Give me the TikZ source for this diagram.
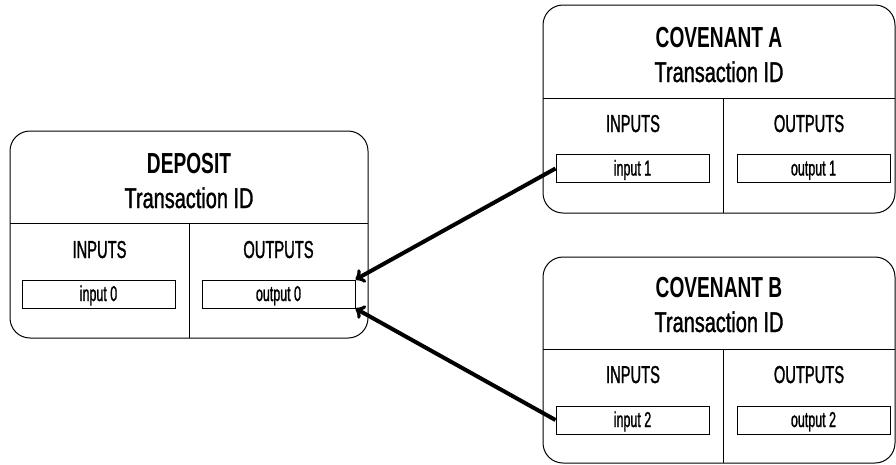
\documentclass[tikz,border=0pt]{standalone}
\usepackage{fontspec}
\setmainfont{Liberation Sans}
\usepackage{tikz}
\tikzstyle{txbox}=[draw,rounded corners=20pt,line width=1pt,minimum width=352pt,minimum height=207pt,inner sep=0pt]
\tikzstyle{port}=[draw,line width=1pt,minimum width=153pt,minimum height=28pt,inner sep=0pt,text height=15pt,text depth=1pt,font=\addfontfeature{FakeStretch=0.58,FakeBold=1.2}\fontsize{21.5}{21.5}\selectfont]
\tikzstyle{txtitle}=[anchor=base,font=\addfontfeature{FakeStretch=0.66}\fontsize{29}{29}\selectfont\bfseries]
\tikzstyle{txid}=[anchor=base,font=\addfontfeature{FakeStretch=0.7,FakeBold=1.2}\fontsize{28.5}{28.5}\selectfont]
\tikzstyle{colhead}=[anchor=base,font=\addfontfeature{FakeStretch=0.6,FakeBold=1.2}\fontsize{24.5}{24.5}\selectfont]

\begin{document}
\begin{tikzpicture}[x=1pt,y=-1pt]
          \useasboundingbox (0,0) rectangle (896,464);
          % deposit
          \node[txbox,minimum width=358pt] (dep) at (189,234.5) {};
          \node[txtitle] (depname) at (189,173) {DEPOSIT};
          \node[txid] (depid) at (189,208) {Transaction ID};
          \draw[line width=1pt] (10,223) -- (368,223);
          \draw[line width=1pt] (189,223) -- (189,338);
          \node[colhead] (depin) at (99.5,258) {INPUTS};
          \node[colhead] (depout) at (278.5,258) {OUTPUTS};
          \node[port] (in0) at (98.5,294) {input 0};
          \node[port] (out0) at (278.5,294) {output 0};
          % covenant a
          \node[txbox,minimum height=208pt] (cova) at (719,109) {};
          \node[txtitle] (covaname) at (719,47) {COVENANT A};
          \node[txid] (covaid) at (719,82) {Transaction ID};
          \draw[line width=1pt] (543,98) -- (895,98);
          \draw[line width=1pt] (723,98) -- (723,213);
          \node[colhead] (covain) at (633,132) {INPUTS};
          \node[colhead] (covaout) at (809,132) {OUTPUTS};
          \node[port] (in1) at (632.5,168.5) {input 1};
          \node[port] (out1) at (813.5,168.5) {output 1};
          % covenant b
          \node[txbox,minimum height=206pt] (covb) at (719,360) {};
          \node[txtitle] (covbname) at (719,297) {COVENANT B};
          \node[txid] (covbid) at (719,332) {Transaction ID};
          \draw[line width=1pt] (543,349) -- (895,349);
          \draw[line width=1pt] (723,349) -- (723,463);
          \node[colhead] (covbin) at (633,383) {INPUTS};
          \node[colhead] (covbout) at (809,383) {OUTPUTS};
          \node[port] (in2) at (632.5,420) {input 2};
          \node[port] (out2) at (813.5,420) {output 2};
          % spends
          \draw[->,line width=4pt] (in1.west) -- (out0.north east);
          \draw[->,line width=4pt] (in2.west) -- (out0.south east);
        \end{tikzpicture}
\end{document}
